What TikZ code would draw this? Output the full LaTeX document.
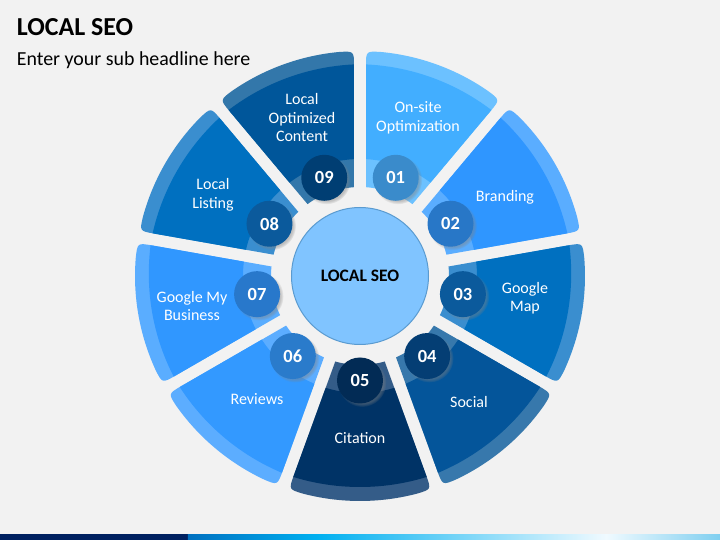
\documentclass[tikz,border=0pt]{standalone}
\usepackage{fontspec}
\setmainfont{Carlito}
\usetikzlibrary{shadows,fadings}

\definecolor{bg}{HTML}{F2F2F2}
\definecolor{f1}{HTML}{42AEFF}\definecolor{r1}{HTML}{6CC1FF}\definecolor{n1}{HTML}{3A8BCB}
\definecolor{f2}{HTML}{2F96FF}\definecolor{r2}{HTML}{5AADFF}\definecolor{n2}{HTML}{2877C7}
\definecolor{f3}{HTML}{0070C0}\definecolor{r3}{HTML}{3A8ECF}\definecolor{n3}{HTML}{0B5A9C}
\definecolor{f4}{HTML}{04559A}\definecolor{r4}{HTML}{3778AC}\definecolor{n4}{HTML}{043E74}
\definecolor{f5}{HTML}{003366}\definecolor{r5}{HTML}{345C88}\definecolor{n5}{HTML}{022B55}
\definecolor{f6}{HTML}{3399FF}\definecolor{r6}{HTML}{5CADFF}\definecolor{n6}{HTML}{2A7BCB}
\definecolor{f7}{HTML}{3097FF}\definecolor{r7}{HTML}{5AADFF}\definecolor{n7}{HTML}{2878CB}
\definecolor{f8}{HTML}{0070C0}\definecolor{r8}{HTML}{3A8ECF}\definecolor{n8}{HTML}{0B5A9C}
\definecolor{f9}{HTML}{00569A}\definecolor{r9}{HTML}{3377AA}\definecolor{n9}{HTML}{003E73}
\definecolor{ctrfill}{HTML}{80C4FF}
\definecolor{ctrline}{HTML}{5A9BD0}
\definecolor{barnavy}{HTML}{002060}
\definecolor{barA}{HTML}{0070C0}
\definecolor{barB}{HTML}{00B0F0}
\definecolor{barC}{HTML}{F0FAFF}
\definecolor{barD}{HTML}{7FCFF0}

\newcommand{\SegPath}[1]{({#1+16.13}:89) -- ({#1+18.36}:210) .. controls ({#1+18.47}:225) .. ({#1+14.65}:225) arc[start angle={#1+14.65}, end angle={#1-14.65}, radius=225] .. controls ({#1-18.47}:225) .. ({#1-18.36}:210) -- ({#1-16.13}:89) arc[start angle={#1-16.13}, end angle={#1+16.13}, radius=89] -- cycle}

\tikzset{
  numc/.style={circle, minimum size=46, inner sep=0pt, text=white,
    font=\fontsize{18.5}{20}\selectfont\bfseries,
    circular drop shadow={shadow xshift=2pt, shadow yshift=-2pt, shadow scale=1.06, opacity=0.45}},
  lbl/.style={align=center, text=white, inner sep=0pt,
    font=\fontsize{16}{18.5}\selectfont},
}

\begin{document}
\begin{tikzpicture}[x=1pt,y=1pt]
\useasboundingbox (-360,-264) rectangle (360,276);
\fill[bg] (-360,-264) rectangle (360,276);

% segments
\foreach \c/\k in {70/1,30/2,-10/3,-50/4,-90/5,-130/6,-170/7,150/8,110/9}{
  \begin{scope}
    \clip \SegPath{\c};
    \fill[fill=r\k] (0,0) circle (300);
    \clip ({\c+180}:14) circle (225);
    \fill[fill=f\k, even odd rule] (0,0) circle (300) (0,0) circle (117);
  \end{scope}
}

% labels
\node[lbl] (t01) at (58,158) {On-site\\Optimization};
\node[lbl] (t02) at (145,79) {Branding};
\node[lbl] (t03) at (165,-22) {Google\\Map};
\node[lbl] (t04) at (109,-126) {Social};
\node[lbl] (t05) at (0,-162) {Citation};
\node[lbl] (t06) at (-103,-123) {Reviews};
\node[lbl] (t07) at (-168,-30) {Google My\\Business};
\node[lbl] (t08) at (-147,81) {Local\\Listing};
\node[lbl] (t09) at (-58,158) {Local\\Optimized\\Content};

% number circles
\node[numc, fill=n1] (n01) at (70:104.5) {01};
\node[numc, fill=n2] (n02) at (30:104.5) {02};
\node[numc, fill=n3] (n03) at (-10:104.5) {03};
\node[numc, fill=n4] (n04) at (-50:104.5) {04};
\node[numc, fill=n5] (n05) at (-90:104.5) {05};
\node[numc, fill=n6] (n06) at (-130:104.5) {06};
\node[numc, fill=n7] (n07) at (-170:104.5) {07};
\node[numc, fill=n8] (n08) at (150:104.5) {08};
\node[numc, fill=n9] (n09) at (110:104.5) {09};

% centre
\node[circle, minimum size=137, inner sep=0pt, fill=ctrfill, draw=ctrline, line width=1pt,
      font=\fontsize{17.5}{20}\selectfont\bfseries] (ctr) at (0,0) {LOCAL SEO};

% title
\node[anchor=base west, inner sep=0pt, font=\fontsize{25.9}{30}\selectfont\bfseries] (title) at (-343.3,240) {LOCAL SEO};
\node[anchor=base west, inner sep=0pt, font=\fontsize{19.9}{23}\selectfont] (sub) at (-343.3,210.3) {Enter your sub headline here};

% bottom bar
\fill[barnavy] (-360,-264) rectangle (-172,-258);
\shade[left color=barA, right color=barB] (-172,-264) rectangle (-43,-258);
\shade[left color=barB, right color=barC] (-43,-264) rectangle (246,-258);
\shade[left color=barC, right color=barD] (246,-264) rectangle (360,-258);
\end{tikzpicture}
\end{document}
